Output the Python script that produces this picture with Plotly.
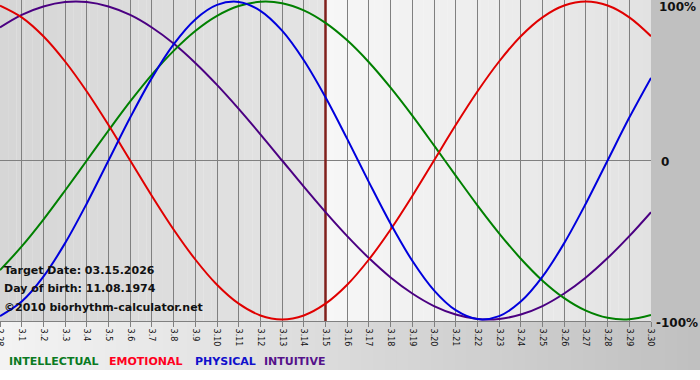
import plotly.graph_objects as go

# ---- data ----
day_labels = ["2.28", "3.1", "3.2", "3.3", "3.4", "3.5", "3.6", "3.7", "3.8", "3.9",
              "3.10", "3.11", "3.12", "3.13", "3.14", "3.15", "3.16", "3.17", "3.18",
              "3.19", "3.20", "3.21", "3.22", "3.23", "3.24", "3.25", "3.26", "3.27",
              "3.28", "3.29", "3.30"]
target_label = "3.15"

physical = [-97.9, -88.8, -73.1, -52.0, -27.0, 0.0, 27.0, 52.0, 73.1, 88.8,
            97.9, 99.8, 94.2, 81.7, 63.1, 39.8, 13.6, -13.6, -39.8, -63.1,
            -81.7, -94.2, -99.8, -97.9, -88.8, -73.1, -52.0, -27.0, 0.0, 27.0, 52.0]
emotional = [97.5, 90.1, 78.2, 62.3, 43.4, 22.3, 0.0, -22.3, -43.4, -62.3,
             -78.2, -90.1, -97.5, -100.0, -97.5, -90.1, -78.2, -62.3, -43.4, -22.3,
             0.0, 22.3, 43.4, 62.3, 78.2, 90.1, 97.5, 100.0, 97.5, 90.1, 78.2]
intellectual = [-69.0, -54.1, -37.2, -18.9, 0.0, 18.9, 37.2, 54.1, 69.0, 81.5,
                91.0, 97.2, 99.9, 99.0, 94.5, 86.6, 75.6, 61.8, 45.8, 28.2,
                9.5, -9.5, -28.2, -45.8, -61.8, -75.6, -86.6, -94.5, -99.0, -99.9, -97.2]
intuitive = [83.7, 91.6, 96.9, 99.7, 99.7, 96.9, 91.6, 83.7, 73.6, 61.4,
             47.6, 32.5, 16.5, 0.0, -16.5, -32.5, -47.6, -61.4, -73.6, -83.7,
             -91.6, -96.9, -99.7, -99.7, -96.9, -91.6, -83.7, -73.6, -61.4, -47.6, -32.5]

y_tick_labels = ["100%", "0", "-100%"]
info_lines = ["Target Date: 03.15.2026", "Day of birth: 11.08.1974",
              "\u00a92010 biorhythm-calculator.net"]
series_names = ["INTELLECTUAL", "EMOTIONAL", "PHYSICAL", "INTUITIVE"]

# ---- styling ----
W, H = 700, 380
ML, MR, MT, MB = 0, 49, 0, 59
PW, PH = W - ML - MR, H - MT - MB

colors = {"INTELLECTUAL": "#008000", "EMOTIONAL": "#e00000",
          "PHYSICAL": "#0000dd", "INTUITIVE": "#4b0082"}
text_colors = {"INTELLECTUAL": "#0a7a22", "EMOTIONAL": "#ff0020",
               "PHYSICAL": "#1010cc", "INTUITIVE": "#55128a"}

xs = list(range(len(day_labels)))
t_idx = day_labels.index(target_label)


def px_x(p):  # pixel -> paper x
    return (p - ML) / PW


def px_y(p):  # pixel (from top) -> paper y
    return (H - MB - p) / PH


def gray(v):
    v = int(round(v))
    return f"rgb({v},{v},{v})"


shapes = []
n = 40
for k in range(n):
    a0 = t_idx * k / n
    a1 = t_idx * (k + 1) / n + 0.01
    shapes.append(dict(type="rect", xref="x", yref="paper", x0=a0, x1=a1, y0=0, y1=1,
                       fillcolor=gray(214 + (228 - 214) * k / (n - 1)), line_width=0, layer="below"))
last = xs[-1]
for k in range(n):
    a0 = t_idx + (last - t_idx) * k / n
    a1 = t_idx + (last - t_idx) * (k + 1) / n + 0.01
    shapes.append(dict(type="rect", xref="x", yref="paper", x0=a0, x1=a1, y0=0, y1=1,
                       fillcolor=gray(247 - (247 - 226) * k / (n - 1)), line_width=0, layer="below"))
shapes.append(dict(type="rect", xref="paper", yref="paper", x0=1, x1=px_x(W), y0=px_y(H - MB + 0.5), y1=1,
                   fillcolor="#c0c0c0", line_width=0, layer="below"))
m = 60
for k in range(m):
    p0 = W * k / m
    p1 = W * (k + 1) / m + 1
    shapes.append(dict(type="rect", xref="paper", yref="paper", x0=px_x(p0), x1=px_x(p1),
                       y0=px_y(370), y1=px_y(H - MB),
                       fillcolor=gray(243 - (243 - 192) * k / (m - 1)), line_width=0, layer="below"))

fig = go.Figure()

fig.add_trace(go.Scatter(x=[t_idx, t_idx], y=[-101, 101], mode="lines",
                         line=dict(color="#80201c", width=2.5), hoverinfo="skip"))

for name, vals in [("INTUITIVE", intuitive), ("INTELLECTUAL", intellectual),
                   ("EMOTIONAL", emotional), ("PHYSICAL", physical)]:
    fig.add_trace(go.Scatter(x=xs, y=vals, mode="lines", name=name,
                             line=dict(color=colors[name], width=2, shape="spline", smoothing=1.0),
                             hoverinfo="skip"))

annotations = []
for lab, py, xs_ in zip(y_tick_labels, [7, 162, 323], [6, 8, 3]):
    annotations.append(dict(text=lab, xref="paper", yref="paper", x=1, y=px_y(py),
                            xanchor="left", yanchor="middle", xshift=xs_, showarrow=False,
                            font=dict(family="DejaVu Sans", size=12, color="#111111", weight="bold")))
for txt, py in zip(info_lines, [270, 288, 307]):
    annotations.append(dict(text=txt, xref="paper", yref="paper", x=0, y=px_y(py),
                            xanchor="left", yanchor="middle", xshift=2, showarrow=False,
                            font=dict(family="DejaVu Sans", size=11, color="#111111", weight="bold")))
for name, px0 in zip(series_names, [7, 107, 193, 262]):
    annotations.append(dict(text=name, xref="paper", yref="paper", x=px_x(px0), y=px_y(361),
                            xanchor="left", yanchor="middle", showarrow=False,
                            font=dict(family="DejaVu Sans", size=11, color=text_colors[name], weight="bold")))

fig.update_layout(
    width=W, height=H,
    margin=dict(l=ML, r=MR, t=MT, b=MB, pad=0),
    paper_bgcolor="white", plot_bgcolor="rgba(0,0,0,0)",
    showlegend=False, hovermode=False,
    shapes=shapes, annotations=annotations,
    xaxis=dict(range=[0, last], tickvals=xs, ticktext=day_labels, tickangle=90,
               showgrid=True, gridcolor="#808080", gridwidth=1,
               ticks="outside", ticklen=5, tickcolor="#808080",
               showline=True, linecolor="#808080", linewidth=1,
               tickfont=dict(family="DejaVu Sans", size=8, color="#111111"),
               ticklabeloverflow="allow",
               zeroline=False, fixedrange=True, automargin=False),
    yaxis=dict(range=[-101, 101], tickvals=[0], showticklabels=False,
               showgrid=True, gridcolor="#808080", gridwidth=1,
               zeroline=False, showline=False, fixedrange=True, automargin=False),
)

fig.write_html("out.html", config={"displayModeBar": False},
               post_script="document.body.style.margin='0';document.body.style.overflow='hidden';")
